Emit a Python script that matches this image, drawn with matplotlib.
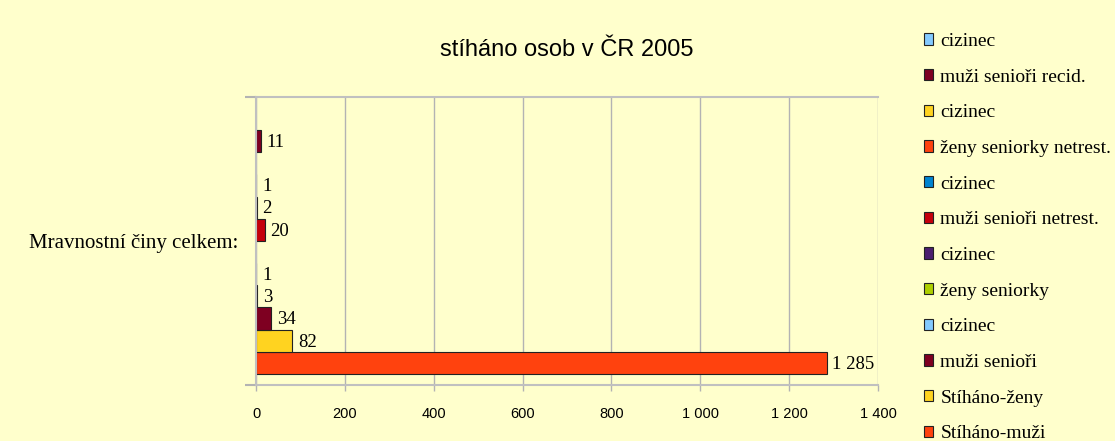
import numpy as np
import matplotlib.pyplot as plt
from matplotlib.patches import Patch

# series, bottom-up order as drawn
series = ['Stíháno-muži', 'Stíháno-ženy', 'muži senioři', 'cizinec', 'ženy seniorky',
          'cizinec', 'muži senioři netrest.', 'cizinec', 'ženy seniorky netrest.',
          'cizinec', 'muži senioři recid.', 'cizinec']
values = [1285, 82, 34, 3, 1, None, 20, 2, 1, None, 11, None]
colors = ['#FF420E', '#FFD320', '#7E0021', '#83CAFF', '#AECF00', '#4B1F6F',
          '#C5000B', '#0084D1', '#FF420E', '#FFD320', '#7E0021', '#83CAFF']
category = 'Mravnostní činy celkem:'
xticks = [0, 200, 400, 600, 800, 1000, 1200, 1400]

bg = '#FFFFCC'
serif = 'Liberation Serif'
sans = 'Liberation Sans'

fig = plt.figure(figsize=(11.15, 4.41), dpi=100, facecolor=bg)
ax = fig.add_axes([0.2296, 0.127, 0.5578, 0.6537], facecolor=bg)

n = len(series)
pos = np.arange(n)
for i, v in enumerate(values):
    if v is None:
        continue
    ax.barh(pos[i], v, height=1.0, color=colors[i], edgecolor='#222222',
            linewidth=0.8, zorder=2)
    lab = f'{v:,}'.replace(',', ' ')
    ax.annotate(lab, (v, pos[i]), xytext=(4, -1), textcoords='offset points',
                ha='left', va='center', fontsize=13.5, family=serif, zorder=4)

ax.set_xlim(0, 1400)
ax.set_ylim(-1.0, n)
ax.set_xticks(xticks)
ax.set_xticklabels([f'{t:,}'.replace(',', ' ') for t in xticks], family=sans, fontsize=10.5)
ax.grid(axis='x', color='#b3b3b3', linewidth=1, zorder=0)

ax.set_yticks([(n - 1) / 2])
ax.set_yticklabels([category], family=serif, fontsize=15)
ax.set_yticks([-1.0, n], minor=True)
ax.tick_params(axis='y', which='major', length=0, pad=13)
ax.tick_params(axis='y', which='minor', length=8, color='#b3b3b3', width=1.5)
ax.tick_params(axis='x', length=4, color='#b3b3b3', width=1, pad=12)

for s in ['left', 'bottom', 'top', 'right']:
    ax.spines[s].set_color('#c0c0c0')
    ax.spines[s].set_linewidth(1.5)
ax.spines['right'].set_visible(False)

ax.set_title('stíháno osob v ČR 2005', family=sans, fontsize=17, pad=29)

handles = [Patch(facecolor=c, edgecolor='#222222', linewidth=0.8) for c in colors]
leg = fig.legend(handles[::-1], series[::-1], loc='upper left',
                 bbox_to_anchor=(0.8215, 0.943), frameon=False,
                 prop={'family': serif, 'size': 14}, handlelength=0.5,
                 handleheight=0.5, handletextpad=0.35, labelspacing=0.96,
                 borderaxespad=0)

fig.savefig('out.png', dpi=100, facecolor=bg)
